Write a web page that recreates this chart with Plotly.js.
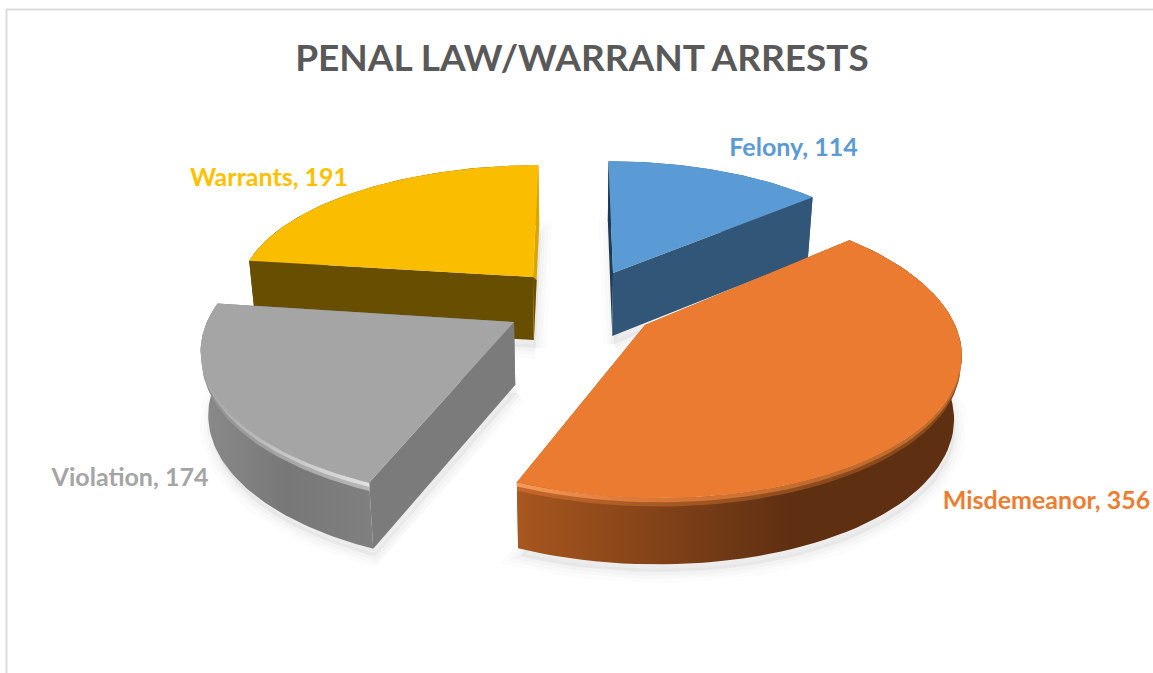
<!DOCTYPE html>
<html><head><meta charset="utf-8">
<script src="https://cdn.plot.ly/plotly-3.0.1.min.js"></script>
<style>html,body{margin:0;padding:0;background:#fff}</style></head>
<body><div id="chart" style="width:1153px;height:673px"></div>
<script>
const categories = ['Felony', 'Misdemeanor', 'Violation', 'Warrants'];
const values = [114, 356, 174, 191];
const chartTitle = 'PENAL LAW/WARRANT ARRESTS';

// styling and projection of each exploded slice
const topColors = ['#5b9bd5', '#ea7b31', '#a5a5a5', '#fbbd00'];
const labelColors = ['#5b9bd5', '#ed7d31', '#a5a5a5', '#ffc000'];
const cutStartColors = ['#1f3a55', '#a8571f', '#7b7b7b', '#674e00'];
const cutEndColors = ['#325677', '#a8571f', '#7b7b7b', '#dca600'];
const wallScales = [
  [[0, '#325677'], [1, '#325677']],
  [[0, '#a8571f'], [0.62, '#5f2f12'], [1, '#5f2f12']],
  [[0, '#8a8a8a'], [0.5, '#787878'], [1, '#808080']],
  [[0, '#674e00'], [0.96, '#674e00'], [0.97, '#dca600'], [1, '#dca600']]
];
const bevelOuter = [
  null,
  [[0, '#c8672a'], [0.3, '#a85a24'], [0.7, '#8a4a1c'], [1, '#8a4a1c']],
  [[0, '#8f8f8f'], [0.55, '#a8a8a8'], [1, '#b8b8b8']],
  null
];
const bevelInner = [
  null,
  [[0, '#f59a5c'], [0.25, '#e07a38'], [0.7, '#c06a2c'], [1, '#c46c2e']],
  [[0, '#a5a5a5'], [0.55, '#c8c8c8'], [1, '#e0e0e0']],
  null
];
const proj = [
  {ax: 613, ay: 273, u: 287, v: 124, p: 0.109, sx: -5},
  {ax: 645, ay: 325, u: 310, v: 144, p: 0.168, sx: -12},
  {ax: 514, ay: 322, u: 307, v: 142, p: 0.2, sx: 0},
  {ax: 533, ay: 277, u: 291, v: 123, p: 0.1, sx: 6}
];
const labelPos = [[793.5, 150], [1046.5, 503], [130, 480], [269, 180]];
const depth = 63, converge = 0.02, vanishX = 576;

const total = values.reduce((a, b) => a + b, 0);
let acc = 0;
const spans = values.map(v => { const s = acc / total * 2 * Math.PI; acc += v; return [s, acc / total * 2 * Math.PI]; });

function pt(i, t, r, z) {
  const g = proj[i], X = r * Math.sin(t), Y = r * Math.cos(t), w = 1 + g.p * Y;
  let x = g.ax + (g.u * X + g.sx * Y) / w;
  let y = g.ay - g.v * Y / w;
  y += z / (1 + 0.05 * Y);
  x += (vanishX - x) * converge * (z / depth);
  return [x, y];
}
function arc(i, r, z, rev) {
  const [a, b] = spans[i], n = 72, out = [];
  for (let k = 0; k <= n; k++) out.push(pt(i, a + (b - a) * (rev ? n - k : k) / n, r, z));
  return out;
}
function poly(pts, opts) {
  const p = pts.concat([pts[0]]);
  return Object.assign({type: 'scatter', mode: 'lines', x: p.map(q => q[0]), y: p.map(q => q[1]),
    fill: 'toself', line: {width: 0}, hoverinfo: 'skip', showlegend: false}, opts);
}
const traces = [];
// soft shadows
[0, 1, 2, 3].forEach(i => {
  const a = spans[i][0];
  const base = [pt(i, a, 0, depth)].concat(arc(i, 1, depth, false)).map(q => [q[0] + 2, q[1] + 8]);
  [[22, 0.012], [14, 0.016], [7, 0.02]].forEach(s => {
    traces.push(poly(base, {fillcolor: 'rgba(0,0,0,' + s[1] + ')', line: {width: s[0], color: 'rgba(0,0,0,' + s[1] + ')'}}));
  });
});
// back to front
[3, 0, 2, 1].forEach(i => {
  const [a, b] = spans[i];
  const cutA = [pt(i, a, 0, 0), pt(i, a, 1, 0), pt(i, a, 1, depth), pt(i, a, 0, depth)];
  const cutB = [pt(i, b, 0, 0), pt(i, b, 1, 0), pt(i, b, 1, depth), pt(i, b, 0, depth)];
  const wall = poly(arc(i, 1, 0, false).concat(arc(i, 1, depth, true)),
    {fillgradient: {type: 'horizontal', colorscale: wallScales[i]}});
  const back = i === 0 || i === 3;
  if (back) traces.push(wall);
  traces.push(poly(cutA, {fillcolor: cutStartColors[i]}));
  traces.push(poly(cutB, {fillcolor: cutEndColors[i]}));
  if (i === 3) traces.push(poly([pt(i, b, 0, 0), pt(i, b, 0, depth), pt(i, b, 0.5, depth)], {fillcolor: '#674e00'}));
  if (!back) traces.push(wall);
  if (bevelOuter[i]) {
    traces.push(poly(arc(i, 1, 0, false).concat(arc(i, 1, 8, true)), {fillgradient: {type: 'horizontal', colorscale: bevelOuter[i]}}));
    traces.push(poly(arc(i, 1, 0, false).concat(arc(i, 1, 4, true)), {fillgradient: {type: 'horizontal', colorscale: bevelInner[i]}}));
  }
  traces.push(poly([pt(i, a, 0, 0)].concat(arc(i, 1, 0, false)), {fillcolor: topColors[i], name: categories[i]}));
});
// data labels
categories.forEach((c, i) => traces.push({
  type: 'scatter', mode: 'text', x: [labelPos[i][0]], y: [labelPos[i][1]],
  text: [c + ', ' + values[i]], textposition: 'middle center',
  textfont: {family: 'Lato, "Open Sans", sans-serif', size: 25, color: labelColors[i], weight: 700},
  hoverinfo: 'text', showlegend: false, cliponaxis: false
}));

Plotly.newPlot('chart', traces, {
  width: 1153, height: 673, margin: {l: 0, r: 0, t: 0, b: 0},
  paper_bgcolor: '#ffffff', plot_bgcolor: '#ffffff', showlegend: false,
  title: {text: '<b>' + chartTitle + '</b>', x: 582 / 1153, xanchor: 'center', y: 1 - 58 / 673, yanchor: 'middle',
    font: {family: 'Lato, "Open Sans", sans-serif', size: 37, color: '#595959'}},
  xaxis: {range: [0, 1153], visible: false, fixedrange: true},
  yaxis: {range: [673, 0], visible: false, fixedrange: true},
  shapes: [
    {type: 'line', xref: 'x', yref: 'y', x0: 6.5, x1: 6.5, y0: 9, y1: 673, line: {color: '#dcdcdc', width: 2}},
    {type: 'line', xref: 'x', yref: 'y', x0: 6, x1: 1153, y0: 9.5, y1: 9.5, line: {color: '#dcdcdc', width: 2}}
  ]
}, {displayModeBar: false, responsive: false});
</script></body></html>
